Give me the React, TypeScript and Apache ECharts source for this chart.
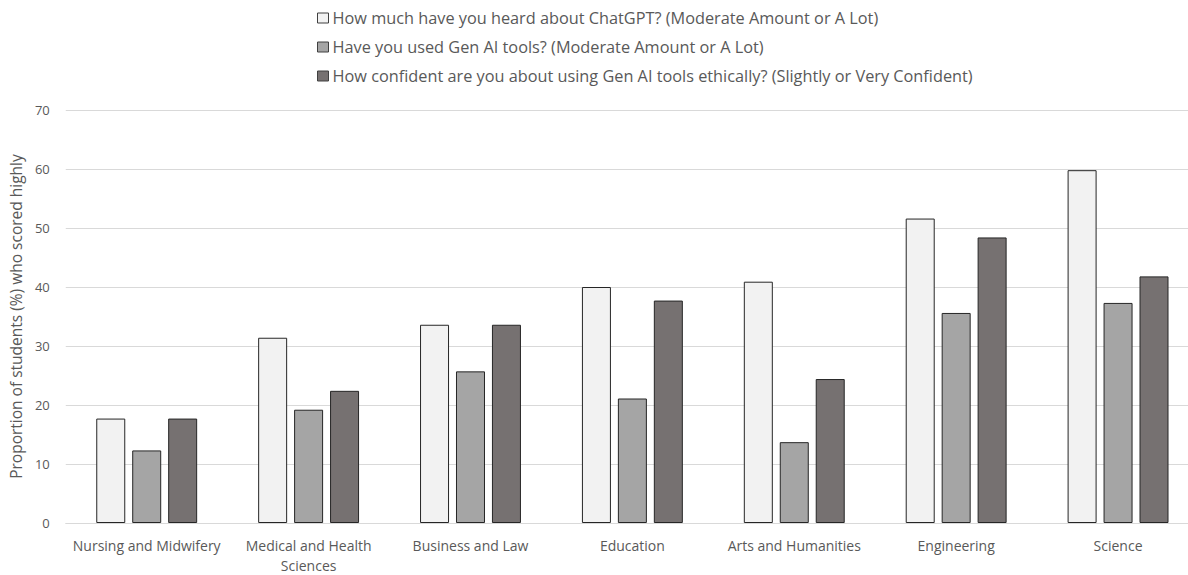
import React, { useEffect, useRef } from "react";
import * as echarts from "echarts";

const categories = [
  "Nursing and Midwifery",
  "Medical and Health\nSciences",
  "Business and Law",
  "Education",
  "Arts and Humanities",
  "Engineering",
  "Science",
];
const seriesNames = [
  "How much have you heard about ChatGPT? (Moderate Amount or A Lot)",
  "Have you used Gen AI tools? (Moderate Amount or A Lot)",
  "How confident are you about using Gen AI tools ethically? (Slightly or Very Confident)",
];
const heardChatGPT = [17.7, 31.4, 33.6, 40.0, 40.9, 51.6, 59.8];
const usedGenAI = [12.3, 19.2, 25.7, 21.1, 13.7, 35.6, 37.3];
const confidentEthical = [17.7, 22.4, 33.6, 37.7, 24.4, 48.4, 41.8];
const colors = ["#f2f2f2", "#a5a5a5", "#767171"];
const yTitle = "Proportion of students (%) who scored highly";

export default function App() {
  const ref = useRef<HTMLDivElement>(null);
  useEffect(() => {
    document.body.style.margin = "0";
    document.body.style.overflow = "hidden";
    const chart = echarts.init(ref.current!, null, { renderer: "svg" });
    const font = "'Open Sans', sans-serif";
    const data = [heardChatGPT, usedGenAI, confidentEthical];
    chart.setOption({
      animation: false,
      textStyle: { fontFamily: font },
      legend: {
        orient: "vertical",
        left: 312,
        top: 5,
        itemWidth: 11,
        itemHeight: 10,
        itemGap: 13,
        icon: "rect",
        textStyle: { color: "#595959", fontSize: 16.3, fontFamily: font, padding: [0, 0, 0, -1] },
        data: seriesNames.map((n, i) => ({
          name: n,
          itemStyle: { color: colors[i], borderColor: "#404040", borderWidth: 1 },
        })),
      },
      grid: { left: 64, right: 0, top: 110, bottom: 45, containLabel: false },
      xAxis: {
        type: "category",
        data: categories,
        axisLine: { lineStyle: { color: "#d9d9d9" } },
        axisTick: { show: false },
        axisLabel: { color: "#595959", fontSize: 14, fontFamily: font, margin: 12, lineHeight: 20, interval: 0 },
      },
      yAxis: {
        type: "value",
        min: 0,
        max: 70,
        interval: 10,
        name: yTitle,
        nameLocation: "middle",
        nameGap: 40,
        nameTextStyle: { color: "#595959", fontSize: 15.5, fontFamily: font },
        axisLabel: { color: "#595959", fontSize: 13, fontFamily: font, margin: 16 },
        splitLine: { lineStyle: { color: "#d9d9d9" } },
        axisLine: { show: false },
        axisTick: { show: false },
      },
      series: seriesNames.map((n, i) => ({
        name: n,
        type: "bar",
        data: data[i],
        barWidth: 29,
        barGap: "24%",
        itemStyle: { color: colors[i], borderColor: "#262626", borderWidth: 1 },
      })),
    });
    return () => chart.dispose();
  }, []);
  return <div ref={ref} style={{ width: 1199, height: 575 }} />;
}
